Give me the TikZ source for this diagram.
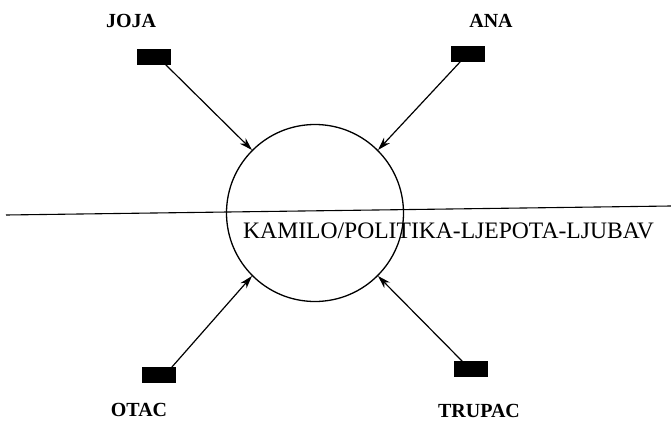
\documentclass[tikz,border=0pt]{standalone}
\usepackage{fontspec}
\setmainfont{Liberation Serif}
\usetikzlibrary{arrows.meta}
\begin{document}
\begin{tikzpicture}[x=1pt,y=-1pt,
  person/.style={font=\bfseries\fontsize{20}{20}\selectfont, inner sep=0pt},
  token/.style={fill=black, draw=black, minimum width=33pt, minimum height=15pt, inner sep=0pt},
  link/.style={line width=1.2pt, -{Stealth[length=13pt,width=8pt]}}]
\useasboundingbox (0,0) rectangle (671,425);

% the central circle and the dividing line
\node[circle, draw, line width=1.3pt, minimum size=177pt, inner sep=0pt] (c) at (315,213) {};
\coordinate (l0) at (6,215);
\coordinate (l1) at (671,206);
\draw[line width=1.1pt] (l0) -- (l1);
\node[anchor=base west, inner sep=0pt, font=\fontsize{23.6}{24}\selectfont] (theme) at (243,238) {KAMILO/POLITIKA-LJEPOTA-LJUBAV};

% the four figures
\node[person] (joja) at (131,21) {JOJA};
\node[token] (jb) at (154,57) {};
\node[person] (ana) at (491,21) {ANA};
\node[token] (ab) at (468,54) {};
\node[token] (ob) at (159,375) {};
\node[person] (otac) at (139,410) {OTAC};
\node[token] (tb) at (471,369) {};
\node[person] (trupac) at (479,411) {TRUPAC};

% arrows into the circle
\draw[link] ([xshift=-5pt]jb.south east) -- (c.135);
\draw[link] ([xshift=9pt]ab.south west) -- (c.45);
\draw[link] ([xshift=-4pt]ob.north east) -- (c.225);
\draw[link] ([xshift=8pt]tb.north west) -- (c.315);
\end{tikzpicture}
\end{document}
